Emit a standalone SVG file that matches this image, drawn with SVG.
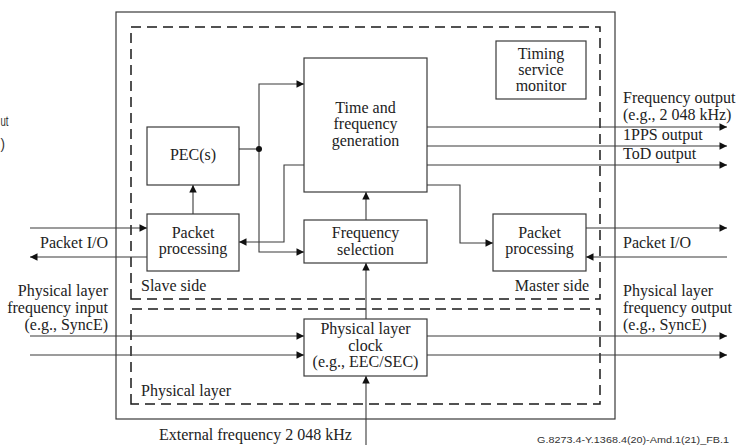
<svg xmlns="http://www.w3.org/2000/svg" width="738" height="445" viewBox="0 0 738 445">
  <style>
    .box { fill: #fff; stroke: #3a3a3a; stroke-width: 1.2; }
    .frame { fill: none; stroke: #3a3a3a; stroke-width: 1.2; }
    .dash { fill: none; stroke: #1a1a1a; stroke-width: 1.5; stroke-dasharray: 10 6; }
    .wire { fill: none; stroke: #3a3a3a; stroke-width: 1.1; }
    .arr { marker-end: url(#ah); }
    text { font-family: "Liberation Serif", "Times New Roman", serif; font-size: 16px; fill: #222; }
    .c { text-anchor: middle; }
    .e { text-anchor: end; }
    .code { font-family: "Liberation Sans", Arial, sans-serif; font-size: 9px; fill: #333; }
    .clip { font-family: "Liberation Sans", Arial, sans-serif; font-size: 15px; fill: #333; }
  </style>
  <defs>
    <marker id="ah" viewBox="0 0 10 10" refX="10" refY="5" markerUnits="userSpaceOnUse" markerWidth="9" markerHeight="7.5" orient="auto">
      <path d="M0,0 L10,5 L0,10 z" fill="#111"/>
    </marker>
  </defs>
  <rect width="738" height="445" fill="#fff"/>

  <!-- fragments at the left edge -->
  <text class="clip" x="0.5" y="126" textLength="8" lengthAdjust="spacingAndGlyphs">ut</text>
  <text class="clip" x="0.5" y="149" textLength="4.5" lengthAdjust="spacingAndGlyphs">)</text>

  <!-- equipment frame and domains -->
  <g id="equipment">
    <rect class="frame" x="116" y="12" width="499" height="407"/>
  </g>
  <g id="packet-domain">
    <path class="dash" d="M131,299 V27 H600 V299 Z"/>
    <text x="141" y="290.5">Slave side</text>
    <text class="e" x="589" y="290.5">Master side</text>
  </g>
  <g id="physical-domain">
    <path class="dash" d="M131,404 V309 H600 V404 Z"/>
    <text x="141" y="395.5">Physical layer</text>
  </g>

  <!-- connectors -->
  <g id="connectors">
    <path class="wire" d="M239,149 H259"/>
    <path class="wire arr" d="M259,149 V84 H304"/>
    <path class="wire arr" d="M259,149 V252 H304"/>
    <circle cx="259" cy="149" r="3" fill="#111"/>
    <path class="wire arr" d="M304,165 H284 V242 H239"/>
    <path class="wire arr" d="M427,185 H460 V243 H493"/>
    <path class="wire arr" d="M366,220 V192"/>
    <path class="wire arr" d="M366,319 V263"/>
    <path class="wire arr" d="M366,445 V376"/>
    <path class="wire arr" d="M193,214 V185"/>
    <path class="wire arr" d="M30,228 H147"/>
    <path class="wire arr" d="M147,257 H30"/>
    <path class="wire arr" d="M586,228 H727"/>
    <path class="wire arr" d="M727,257 H586"/>
    <path class="wire arr" d="M30,336 H304"/>
    <path class="wire arr" d="M30,355 H304"/>
    <path class="wire arr" d="M427,336 H727"/>
    <path class="wire arr" d="M427,355 H727"/>
    <path class="wire arr" d="M427,127 H727"/>
    <path class="wire arr" d="M427,146 H727"/>
    <path class="wire arr" d="M427,165 H727"/>
  </g>

  <!-- nodes -->
  <g id="tfg">
    <rect class="box" x="304" y="58" width="123" height="134"/>
    <text class="c" x="365.5" y="112.5">Time and</text>
    <text class="c" x="365.5" y="129">frequency</text>
    <text class="c" x="365.5" y="145.5">generation</text>
  </g>
  <g id="tsm">
    <rect class="box" x="496" y="41" width="90" height="58"/>
    <text class="c" x="541" y="58.5">Timing</text>
    <text class="c" x="541" y="74.5">service</text>
    <text class="c" x="541" y="91">monitor</text>
  </g>
  <g id="pec">
    <rect class="box" x="147" y="127" width="92" height="58"/>
    <text class="c" x="193" y="160">PEC(s)</text>
  </g>
  <g id="pp-slave">
    <rect class="box" x="147" y="214" width="92" height="57"/>
    <text class="c" x="193" y="237.5">Packet</text>
    <text class="c" x="193" y="253.5">processing</text>
  </g>
  <g id="freq-sel">
    <rect class="box" x="304" y="220" width="123" height="43"/>
    <text class="c" x="365.5" y="238">Frequency</text>
    <text class="c" x="365.5" y="255">selection</text>
  </g>
  <g id="pp-master">
    <rect class="box" x="493" y="214" width="93" height="57"/>
    <text class="c" x="539.5" y="237.5">Packet</text>
    <text class="c" x="539.5" y="253.5">processing</text>
  </g>
  <g id="phy-clock">
    <rect class="box" x="304" y="319" width="123" height="57"/>
    <text class="c" x="365.5" y="334">Physical layer</text>
    <text class="c" x="365.5" y="350.5">clock</text>
    <text class="c" x="365.5" y="367">(e.g., EEC/SEC)</text>
  </g>

  <!-- interface labels -->
  <g id="labels">
    <text class="e" x="108" y="247.5">Packet I/O</text>
    <text class="e" x="108" y="296">Physical layer</text>
    <text class="e" x="108" y="313">frequency input</text>
    <text class="e" x="108" y="330">(e.g., SyncE)</text>
    <text x="623" y="247.5">Packet I/O</text>
    <text x="623" y="296">Physical layer</text>
    <text x="623" y="313">frequency output</text>
    <text x="623" y="330">(e.g., SyncE)</text>
    <text x="623" y="103">Frequency output</text>
    <text x="623" y="120">(e.g., 2 048 kHz)</text>
    <text x="623" y="140">1PPS output</text>
    <text x="623" y="159">ToD output</text>
    <text x="159" y="440">External frequency 2 048 kHz</text>
    <text class="code" x="537" y="443" textLength="192" lengthAdjust="spacingAndGlyphs">G.8273.4-Y.1368.4(20)-Amd.1(21)_FB.1</text>
  </g>
</svg>
